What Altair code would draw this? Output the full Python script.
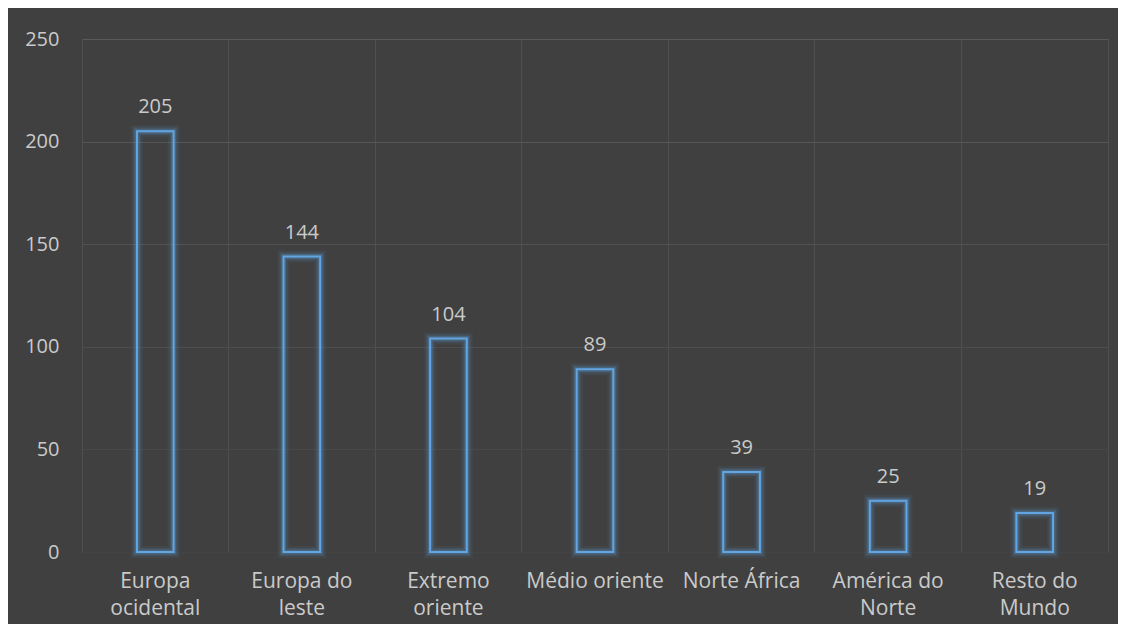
import altair as alt
import pandas as pd

categories = ["Europa|ocidental", "Europa do|leste", "Extremo|oriente", "Médio oriente",
              "Norte África", "América do|Norte", "Resto do|Mundo"]
values = [205, 144, 104, 89, 39, 25, 19]
y_ticks = [0, 50, 100, 150, 200, 250]

df = pd.DataFrame({"cat": categories, "val": values})

FONT = "Open Sans"
TXT = "#CACACA"
BLUE = "#5B9BD5"

x_enc = alt.X("cat:N", sort=categories,
              scale=alt.Scale(paddingInner=0, paddingOuter=0),
              axis=alt.Axis(title=None, labelAngle=0, domain=False, ticks=False,
                            grid=True, gridColor="#4F4F4F", bandPosition=0,
                            labelExpr="split(datum.label, '|')",
                            labelPadding=18, labelLineHeight=27,
                            labelFont=FONT, labelFontSize=21, labelColor=TXT))
y_enc = alt.Y("val:Q", scale=alt.Scale(domain=[0, 250], nice=False),
              axis=alt.Axis(title=None, values=y_ticks, domain=False, ticks=False,
                            gridColor=alt.ExprRef(
                                "datum.value == 250 ? '#5A5A5A' : datum.value == 200 ? '#565656' : "
                                "datum.value == 150 ? '#525252' : datum.value == 100 ? '#4D4D4D' : "
                                "datum.value == 50 ? '#484848' : '#434343'"),
                            labelPadding=23, labelFont=FONT, labelFontSize=20,
                            labelColor=TXT))

base = alt.Chart(df).encode(x=x_enc, y=y_enc)

glow1 = base.mark_bar(width={"band": 0.25}, fillOpacity=0, stroke=BLUE,
                      strokeWidth=12, strokeOpacity=0.08)
glow2 = base.mark_bar(width={"band": 0.25}, fillOpacity=0, stroke=BLUE,
                      strokeWidth=8, strokeOpacity=0.14)
glow3 = base.mark_bar(width={"band": 0.25}, fillOpacity=0, stroke=BLUE,
                      strokeWidth=5, strokeOpacity=0.25)
bars = base.mark_bar(width={"band": 0.25}, fillOpacity=0, stroke="#62A5E3",
                     strokeWidth=2)
labels = base.mark_text(baseline="alphabetic", dy=-18, font=FONT, fontSize=20,
                        color=TXT).encode(text="val:Q")

chart = (alt.layer(glow1, glow2, glow3, bars, labels)
         .properties(width=1026, height=513,
                     autosize=alt.AutoSizeParams(type="none"),
                     padding={"left": 74, "top": 31, "right": 10, "bottom": 72},
                     background="#404040")
         .configure_view(stroke="#4F4F4F", strokeWidth=1))

chart.save("out.html", embed_options={"renderer": "svg", "actions": False})
